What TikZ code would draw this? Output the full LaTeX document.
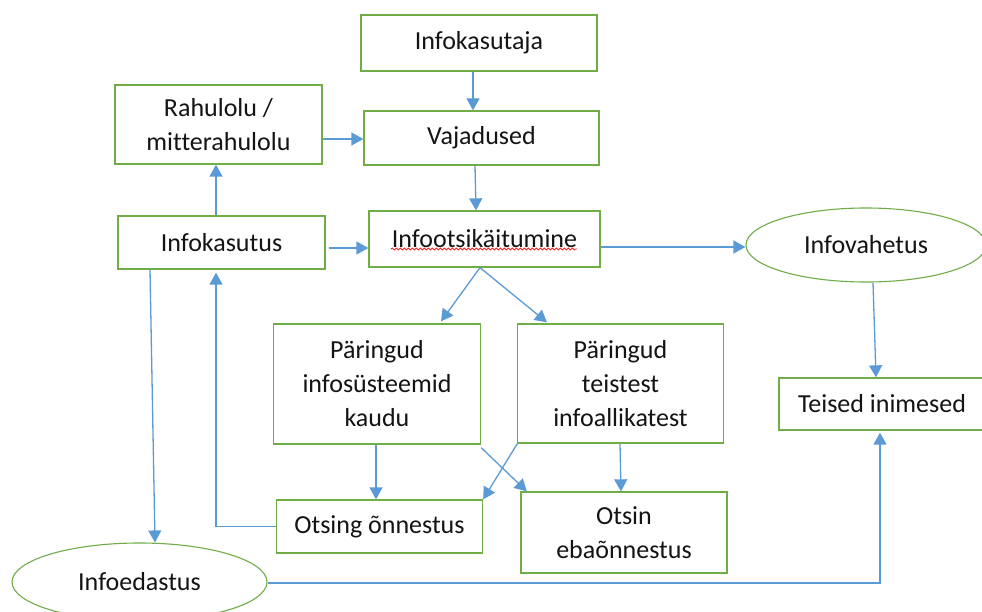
\documentclass[tikz,border=0pt]{standalone}
\usepackage{fontspec}
\setmainfont[Ligatures=NoCommon]{Carlito}
\usetikzlibrary{arrows.meta,shapes.geometric,decorations.pathmorphing,calc}
\definecolor{boxgreen}{HTML}{70AD47}
\definecolor{arrblue}{HTML}{5B9BD5}
\begin{document}
\begin{tikzpicture}[x=1pt,y=-1pt,
  box/.style={draw=boxgreen,line width=1.3pt,rectangle,inner sep=0pt,align=center,
    font=\fontsize{26}{34}\selectfont,text=black!92},
  oval/.style={draw=boxgreen,line width=1.1pt,ellipse,inner sep=0pt,
    font=\fontsize{26}{34}\selectfont,text=black!92},
  conn/.style={draw=arrblue,line width=1.3pt,-{Triangle[length=12pt,width=13pt]}}]
\useasboundingbox (0,0) rectangle (982,612);
\clip (0,0) rectangle (982,612);
\fill[white] (0,0) rectangle (982,612);

\node[box,minimum width=236,minimum height=56] (ik) at (479,43) {Infokasutaja};
\node[box,minimum width=235,minimum height=54] (vaj) at (481.5,138) {Vajadused};
\node[box,minimum width=207,minimum height=79] (rah) at (218.5,124.5) {Rahulolu /\\mitterahulolu};
\node[box,minimum width=207,minimum height=53] (iku) at (221.5,242.5) {Infokasutus};
\node[box,minimum width=231,minimum height=56] (iot) at (484.5,239) {Infootsikäitumine};
\node[box,minimum width=207,minimum height=120] (p1) at (377,384) {Päringud\\infosüsteemid\\kaudu};
\node[box,minimum width=206,minimum height=119] (p2) at (620.5,383.5) {Päringud\\teistest\\infoallikatest};
\node[box,minimum width=206,minimum height=53] (ok) at (379.5,526.5) {Otsing õnnestus};
\node[box,minimum width=206,minimum height=81] (fail) at (624,532.5) {Otsin\\ebaõnnestus};
\node[box,minimum width=206,minimum height=52] (tei) at (882,404) {Teised inimesed};
\node[oval,minimum width=240,minimum height=74] (vah) at (866,245) {Infovahetus};
\node[oval,minimum width=255,minimum height=78] (eda) at (139.5,582) {Infoedastus};

% spell-check squiggle
\coordinate (sq1) at (391,249);
\coordinate (sq2) at (577,249);
\draw[red,line width=0.7pt,decorate,decoration={snake,amplitude=1pt,segment length=4pt}] (sq1) -- (sq2);

\draw[conn] ([xshift=-6pt]ik.south) -- ([xshift=-8.5pt]vaj.north);
\draw[conn] ([xshift=-6.5pt]vaj.south) -- ([xshift=-8.5pt]iot.north);
\draw[conn] ([yshift=-14.5pt]rah.east) -- ([yshift=-1pt]vaj.west);
\draw[conn] ([xshift=-5.5pt]iku.north) -- ([xshift=-2.5pt]rah.south);
\draw[conn] ([xshift=3pt,yshift=-5.5pt]iku.east) -- ([yshift=-9pt]iot.west);
\draw[conn] ([yshift=-8pt]iot.east) -- ([yshift=-2pt]vah.west);
\draw[conn] ([xshift=-4.5pt]iot.south) -- ([xshift=64pt,yshift=2pt]p1.north);
\draw[conn] ([xshift=-4.5pt]iot.south) -- ([xshift=-73.5pt,yshift=1pt]p2.north);
\draw[conn] ([xshift=-1pt]p1.south) -- ([xshift=-3.5pt]ok.north);
\draw[conn] ([xshift=-0.5pt]p2.south) -- ([xshift=-3pt]fail.north);
\draw[conn] ([yshift=-3pt]p1.south east) -- ([xshift=6.5pt]fail.north west);
\draw[conn] ([xshift=0.5pt]p2.south west) -- (ok.north east);
\draw[conn] (ok.west) -| ([xshift=-5.5pt,yshift=-3pt]iku.south);
\draw[conn] ([xshift=-71.5pt]iku.south) -- ([xshift=15.5pt]eda.north);
\draw[conn] ([yshift=-1pt]eda.east) -| ([xshift=-2pt,yshift=-2pt]tei.south);
\draw[conn] ([xshift=7pt]vah.south) -- ([xshift=-6pt]tei.north);
\end{tikzpicture}
\end{document}
